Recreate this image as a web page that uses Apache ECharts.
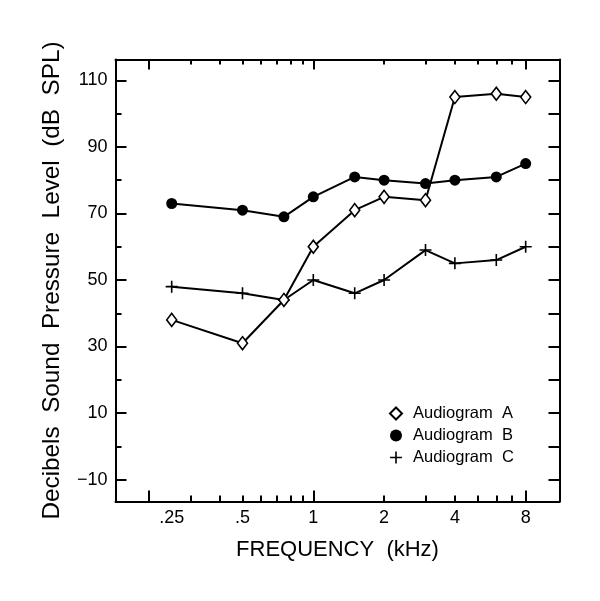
<!DOCTYPE html>
<html><head><meta charset="utf-8">
<script src="https://cdn.jsdelivr.net/npm/echarts@6/dist/echarts.min.js"></script>
<style>html,body{margin:0;padding:0;background:#fff}#c{width:600px;height:601px}</style>
</head><body><div id="c"></div>
<script>
const frequencies = [0.25, 0.5, 0.75, 1, 1.5, 2, 3, 4, 6, 8];
const audiogramA = [38, 31, 44, 60, 71, 75, 74, 105, 106, 105];
const audiogramB = [73, 71, 69, 75, 81, 80, 79, 80, 81, 85];
const audiogramC = [48, 46, 44, 50, 46, 50, 59, 55, 56, 60];
const seriesNames = ['Audiogram  A', 'Audiogram  B', 'Audiogram  C'];
const xTickLabels = [0.25, 0.5, 1, 2, 4, 8];
const xMajorTicks = [0.2, 1, 8];
const xMinorTicks = [0.3, 0.4, 0.5, 0.6, 0.7, 0.8, 0.9, 2, 3, 4, 5, 6, 7];
const yTickLabels = [-10, 10, 30, 50, 70, 90, 110];
const yMinorTicks = [0, 20, 40, 60, 80, 100];
const yRightTicks = [-10, 0, 10, 20, 30, 40, 50, 60, 70, 80, 90, 100, 110];

const X_MIN = 0.1442, X_MAX = 11.14, Y_MIN = -16.6, Y_MAX = 116.3;
const FONT = 'Liberation Sans';
const BLACK = '#000';
const plusPath = 'path://M5.2,0H6.8V12H5.2Z M0,5.2H12V6.8H0Z';

function pairs(vals) { return frequencies.map((f, i) => [f, vals[i]]); }
function fmtFreq(v) { return v < 1 ? String(v).replace(/^0/, '') : String(v); }
function fmtDb(v) { return String(v).replace('-', '\u2212'); }

function xAx(pos, ticks, len, showLine, withLabels) {
  const a = {
    type: 'log', logBase: 10, min: X_MIN, max: X_MAX, position: pos,
    axisLine: { show: showLine, onZero: false, lineStyle: { color: BLACK, width: 2 } },
    axisTick: { show: true, inside: true, length: len, customValues: ticks, lineStyle: { color: BLACK, width: 2 } },
    axisLabel: { show: false },
    splitLine: { show: false }, minorTick: { show: false }, minorSplitLine: { show: false }
  };
  if (withLabels) {
    a.axisLabel = { show: true, customValues: xTickLabels, formatter: fmtFreq, color: BLACK,
      fontFamily: FONT, fontSize: 18, margin: 8 };
    a.name = 'FREQUENCY  (kHz)';
    a.nameLocation = 'middle';
    a.nameGap = 37;
    a.nameTextStyle = { color: BLACK, fontFamily: FONT, fontSize: 22 };
  }
  return a;
}
function yAx(pos, ticks, len, showLine, withLabels) {
  const a = {
    type: 'value', min: Y_MIN, max: Y_MAX, position: pos,
    axisLine: { show: showLine, onZero: false, lineStyle: { color: BLACK, width: 2 } },
    axisTick: { show: true, inside: true, length: len, customValues: ticks, lineStyle: { color: BLACK, width: 2 } },
    axisLabel: { show: false },
    splitLine: { show: false }, minorTick: { show: false }
  };
  if (withLabels) {
    a.axisLabel = { show: true, customValues: yTickLabels, formatter: fmtDb, color: BLACK,
      fontFamily: FONT, fontSize: 18, margin: 8 };
    a.name = 'Decibels  Sound  Pressure  Level  (dB  SPL)';
    a.nameLocation = 'middle';
    a.nameGap = 51;
    a.nameTextStyle = { color: BLACK, fontFamily: FONT, fontSize: 24.3 };
  }
  return a;
}

const lineStyle = { color: BLACK, width: 2 };
const chart = echarts.init(document.getElementById('c'), null, { renderer: 'canvas' });
chart.setOption({
  animation: false,
  backgroundColor: '#fff',
  grid: { left: 115.5, right: 40.5, top: 59.5, bottom: 99.5, containLabel: false },
  xAxis: [
    xAx('bottom', xMajorTicks, 11, true, true),
    xAx('bottom', xMinorTicks, 6, false, false),
    xAx('top', xMajorTicks, 10, true, false),
    xAx('top', xMinorTicks, 5, false, false)
  ],
  yAxis: [
    yAx('left', yTickLabels, 11, true, true),
    yAx('left', yMinorTicks, 6, false, false),
    yAx('right', yRightTicks, 11, true, false)
  ],
  legend: {
    orient: 'vertical', left: 384, top: 400, itemWidth: 12, itemHeight: 12, itemGap: 5,
    textStyle: { fontFamily: FONT, fontSize: 16.5, color: BLACK, padding: [0, 0, 0, 6] },
    data: [
      { name: seriesNames[0], icon: 'diamond' },
      { name: seriesNames[1], icon: 'circle' },
      { name: seriesNames[2], icon: plusPath }
    ]
  },
  series: [
    { name: seriesNames[1], type: 'line', data: pairs(audiogramB), symbol: 'circle', symbolSize: 11,
      lineStyle: lineStyle, itemStyle: { color: BLACK }, z: 3 },
    { name: seriesNames[2], type: 'line', data: pairs(audiogramC), symbol: plusPath, symbolSize: 12,
      lineStyle: lineStyle, itemStyle: { color: BLACK }, z: 3 },
    { name: seriesNames[0], type: 'line', data: pairs(audiogramA), symbol: 'diamond', symbolSize: [10, 13],
      lineStyle: lineStyle, itemStyle: { color: '#fff', borderColor: BLACK, borderWidth: 1.6 }, z: 4 }
  ]
});
</script></body></html>
